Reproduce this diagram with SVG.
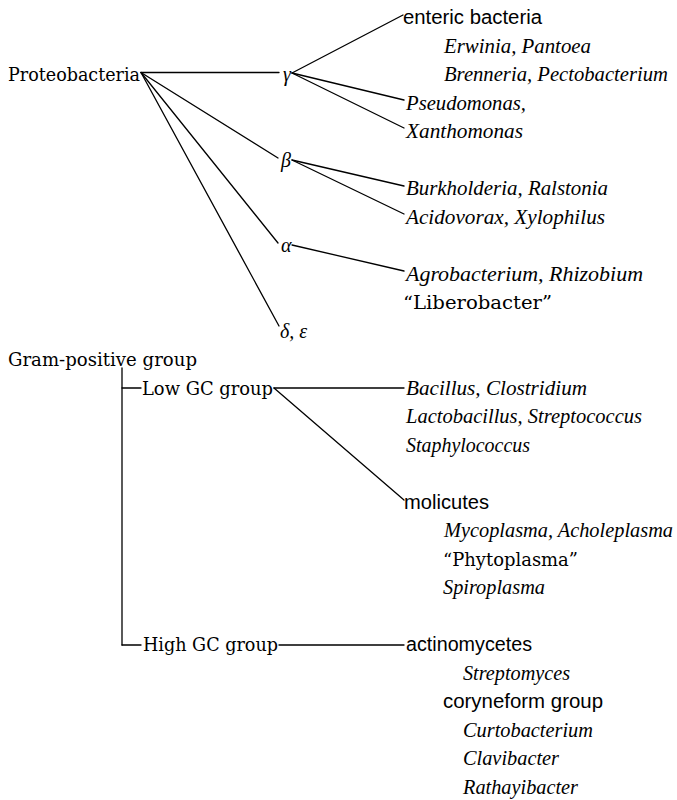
<svg xmlns="http://www.w3.org/2000/svg" width="677" height="800" viewBox="0 0 677 800">
<style>
text { fill: #000; }
.up { font-family: "DejaVu Serif", "Liberation Serif", serif; font-size: 18px; }
.it { font-family: "Liberation Serif", serif; font-style: italic; font-size: 20px; }
.sa { font-family: "Liberation Sans", Arial, sans-serif; font-size: 20px; }
.gr { font-family: "Liberation Serif", serif; font-style: italic; font-size: 20px; }
.ln { stroke: #000; stroke-width: 1.3; fill: none; stroke-linecap: round; }
</style>
<rect width="677" height="800" fill="#fff"/>
<g id="connectors" class="ln">
  <line x1="141" y1="72.5" x2="279" y2="72.5"/>
  <line x1="141" y1="72.5" x2="278" y2="158"/>
  <line x1="141" y1="72.5" x2="278" y2="243"/>
  <line x1="141" y1="72.5" x2="279" y2="326"/>
  <line x1="292" y1="73" x2="403" y2="15"/>
  <line x1="292" y1="73" x2="404" y2="100"/>
  <line x1="292" y1="73" x2="404" y2="128"/>
  <line x1="292" y1="160" x2="404" y2="186"/>
  <line x1="292" y1="160" x2="404" y2="214"/>
  <line x1="292" y1="245" x2="404" y2="271"/>
  <line x1="122" y1="368" x2="122" y2="645"/>
  <line x1="122" y1="388" x2="141" y2="388"/>
  <line x1="122" y1="645" x2="141" y2="645"/>
  <line x1="274" y1="388" x2="404" y2="388"/>
  <line x1="274" y1="388" x2="404" y2="500"/>
  <line x1="279" y1="645" x2="404" y2="645"/>
</g>
<g id="proteobacteria"><text class="up" x="8" y="81" textLength="132" lengthAdjust="spacingAndGlyphs">Proteobacteria</text></g>
<g id="gamma"><text class="gr" x="283" y="81">γ</text></g>
<g id="beta"><text class="gr" x="281" y="166.5">β</text></g>
<g id="alpha"><text class="gr" x="281" y="252">α</text></g>
<g id="delta-epsilon"><text class="gr" x="280" y="337.5">δ, ε</text></g>
<g id="enteric">
  <text class="sa" x="403" y="24" textLength="139" lengthAdjust="spacingAndGlyphs">enteric bacteria</text>
  <text class="it" x="444" y="52.5" textLength="147" lengthAdjust="spacingAndGlyphs">Erwinia, Pantoea</text>
  <text class="it" x="444" y="81" textLength="224" lengthAdjust="spacingAndGlyphs">Brenneria, Pectobacterium</text>
</g>
<g id="pseudomonas"><text class="it" x="406" y="109.5" textLength="120" lengthAdjust="spacingAndGlyphs">Pseudomonas,</text></g>
<g id="xanthomonas"><text class="it" x="406" y="138" textLength="117" lengthAdjust="spacingAndGlyphs">Xanthomonas</text></g>
<g id="burkholderia"><text class="it" x="406" y="195" textLength="202" lengthAdjust="spacingAndGlyphs">Burkholderia, Ralstonia</text></g>
<g id="acidovorax"><text class="it" x="406" y="223.5" textLength="199" lengthAdjust="spacingAndGlyphs">Acidovorax, Xylophilus</text></g>
<g id="agrobacterium">
  <text class="it" x="406" y="280.5" textLength="237" lengthAdjust="spacingAndGlyphs">Agrobacterium, Rhizobium</text>
  <text class="up" x="403" y="309" textLength="149" lengthAdjust="spacingAndGlyphs">“Liberobacter”</text>
</g>
<g id="gram-positive"><text class="up" x="8" y="366" textLength="189" lengthAdjust="spacingAndGlyphs">Gram-positive group</text></g>
<g id="low-gc"><text class="up" x="142" y="394.5" textLength="131" lengthAdjust="spacingAndGlyphs">Low GC group</text></g>
<g id="bacillus">
  <text class="it" x="406" y="394.5" textLength="181" lengthAdjust="spacingAndGlyphs">Bacillus, Clostridium</text>
  <text class="it" x="406" y="423" textLength="236" lengthAdjust="spacingAndGlyphs">Lactobacillus, Streptococcus</text>
  <text class="it" x="406" y="451.5" textLength="124" lengthAdjust="spacingAndGlyphs">Staphylococcus</text>
</g>
<g id="molicutes">
  <text class="sa" x="404" y="508.5" textLength="85" lengthAdjust="spacingAndGlyphs">molicutes</text>
  <text class="it" x="444" y="537" textLength="229" lengthAdjust="spacingAndGlyphs">Mycoplasma, Acholeplasma</text>
  <text class="up" x="443" y="565.5" textLength="135" lengthAdjust="spacingAndGlyphs">“Phytoplasma”</text>
  <text class="it" x="443" y="594" textLength="102" lengthAdjust="spacingAndGlyphs">Spiroplasma</text>
</g>
<g id="high-gc"><text class="up" x="143" y="651" textLength="135" lengthAdjust="spacingAndGlyphs">High GC group</text></g>
<g id="actinomycetes">
  <text class="sa" x="406" y="651" textLength="126" lengthAdjust="spacingAndGlyphs">actinomycetes</text>
  <text class="it" x="463" y="679.5" textLength="107" lengthAdjust="spacingAndGlyphs">Streptomyces</text>
  <text class="sa" x="443" y="708" textLength="160" lengthAdjust="spacingAndGlyphs">coryneform group</text>
  <text class="it" x="463" y="736.5" textLength="130" lengthAdjust="spacingAndGlyphs">Curtobacterium</text>
  <text class="it" x="463" y="765" textLength="96" lengthAdjust="spacingAndGlyphs">Clavibacter</text>
  <text class="it" x="463" y="793.5" textLength="115" lengthAdjust="spacingAndGlyphs">Rathayibacter</text>
</g>
</svg>
